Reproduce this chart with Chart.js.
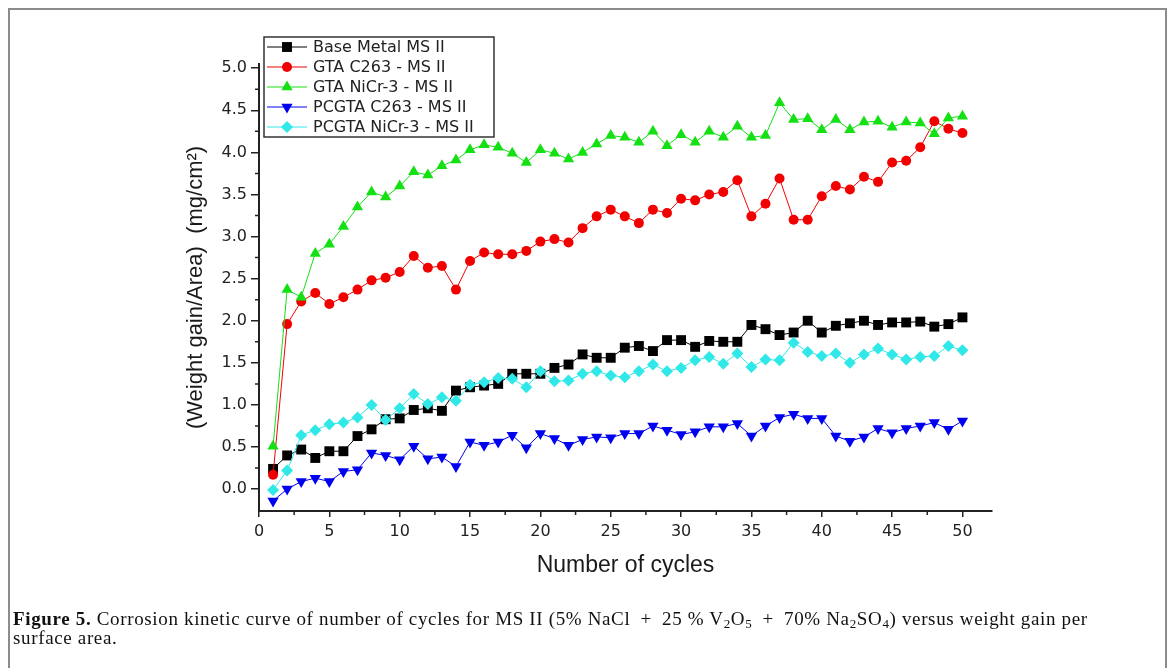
<!DOCTYPE html>
<html>
<head>
<meta charset="utf-8">
<title>Corrosion kinetic curve MS II</title>
<script src="https://cdn.jsdelivr.net/npm/chart.js"></script>
<style>
html,body{margin:0;padding:0;background:#fff;}
body{width:1171px;height:668px;position:relative;overflow:hidden;}
#frame{position:absolute;left:8px;top:8px;width:1155px;height:720px;border:2px solid #8c8c8c;border-bottom:none;}
#myChart{position:absolute;left:0;top:0;}
#caption{position:absolute;left:13px;top:609px;font-family:"Liberation Serif","Times New Roman",serif;font-size:19px;line-height:19px;letter-spacing:0.65px;color:#111;white-space:nowrap;}
#caption sub{font-size:13px;line-height:0;vertical-align:-3px;}
</style>
</head>
<body>
<div id="frame"></div>
<canvas id="myChart" width="1171" height="668"></canvas>
<div id="caption"><b>Figure 5.</b> Corrosion kinetic curve of number of cycles for MS II (5% NaCl&ensp;+&ensp;25&nbsp;% V<sub>2</sub>O<sub>5</sub>&ensp;+&ensp;70% Na<sub>2</sub>SO<sub>4</sub>) versus weight gain per<br>surface area.</div>
<script>
// values
const cycles = [1,2,3,4,5,6,7,8,9,10,11,12,13,14,15,16,17,18,19,20,21,22,23,24,25,
    26,27,28,29,30,31,32,33,34,35,36,37,38,39,40,41,42,43,44,45,46,47,48,49,50];

const baseMetal = [0.24,0.40,0.47,0.37,0.45,0.45,0.63,0.71,0.83,0.84,0.94,0.96,0.93,1.17,1.21,1.23,1.25,1.37,1.37,1.37,
    1.44,1.48,1.60,1.56,1.56,1.68,1.70,1.64,1.77,1.77,1.69,1.76,1.75,1.75,1.95,1.90,1.83,1.86,2.00,1.86,
    1.94,1.97,2.00,1.95,1.98,1.98,1.99,1.93,1.96,2.04];

const gtaC263 = [0.17,1.96,2.23,2.33,2.20,2.28,2.37,2.48,2.51,2.58,2.77,2.63,2.65,2.37,2.71,2.81,2.79,2.79,2.83,2.94,
    2.97,2.93,3.10,3.24,3.32,3.24,3.16,3.32,3.28,3.45,3.43,3.50,3.53,3.67,3.24,3.39,3.69,3.20,3.20,3.48,
    3.60,3.56,3.71,3.65,3.88,3.90,4.06,4.37,4.28,4.23];

const gtaNiCr = [0.51,2.37,2.28,2.80,2.91,3.12,3.35,3.53,3.47,3.60,3.77,3.73,3.84,3.91,4.03,4.09,4.06,3.99,3.88,4.03,
    3.99,3.92,4.00,4.10,4.20,4.18,4.12,4.25,4.08,4.21,4.12,4.25,4.18,4.31,4.18,4.20,4.59,4.39,4.40,4.27,
    4.39,4.27,4.36,4.37,4.30,4.36,4.35,4.22,4.41,4.43];

const pcgtaC263 = [-0.14,0.00,0.09,0.13,0.09,0.21,0.23,0.43,0.40,0.35,0.51,0.36,0.38,0.27,0.56,0.52,0.56,0.64,0.49,0.66,
    0.60,0.52,0.59,0.62,0.61,0.66,0.66,0.75,0.70,0.65,0.68,0.74,0.74,0.78,0.63,0.75,0.85,0.89,0.84,0.84,
    0.63,0.57,0.62,0.72,0.67,0.72,0.75,0.79,0.71,0.81];

const pcgtaNiCr = [-0.01,0.22,0.64,0.70,0.77,0.79,0.85,1.00,0.82,0.96,1.13,1.01,1.09,1.05,1.24,1.27,1.32,1.31,1.21,1.40,
    1.28,1.29,1.37,1.40,1.35,1.33,1.40,1.48,1.40,1.44,1.53,1.57,1.49,1.61,1.45,1.54,1.53,1.74,1.63,1.58,
    1.61,1.50,1.60,1.67,1.60,1.54,1.57,1.58,1.70,1.65];

const seriesNames = ['Base Metal MS II','GTA C263 - MS II','GTA NiCr-3 - MS II','PCGTA C263 - MS II','PCGTA NiCr-3 - MS II'];
const xTitle = 'Number of cycles';
const yTitle = '(Weight gain/Area)  (mg/cm\u00B2)';

function pts(vals){
    return vals.map((v,i)=>({x:cycles[i],y:v}))
}

function ds(label,vals,color,style,radius,rotation,order){
    return {
        label:label,
        data:pts(vals),
        borderColor:color,
        backgroundColor:color,
        pointBackgroundColor:color,
        borderWidth:1,
        pointStyle:style,
        pointRadius:radius,
        pointHoverRadius:radius,
        pointRotation:rotation,
        pointBorderWidth:0,
        tension:0,
        fill:false,
        order:order
    }
}

// short ticks between the labelled ones
const minorTicks = {
    id:'minorTicks',
    afterDraw(chart){
        const ctx = chart.ctx, ca = chart.chartArea;
        const x = chart.scales.x, y = chart.scales.y;
        ctx.save();
        ctx.strokeStyle = '#222';
        ctx.lineWidth = 1.5;
        ctx.beginPath();
        for(let v=2.5; v<x.max; v+=5){
            let px = x.getPixelForValue(v);
            ctx.moveTo(px,ca.bottom);
            ctx.lineTo(px,ca.bottom+4);
        }
        for(let v=0.25; v<y.max; v+=0.5){
            let py = y.getPixelForValue(v);
            ctx.moveTo(ca.left-4,py);
            ctx.lineTo(ca.left,py);
        }
        ctx.stroke();
        ctx.restore();
    }
}

// boxed legend with line + marker, like the Origin one
const boxLegend = {
    id:'boxLegend',
    afterDraw(chart){
        const ctx = chart.ctx, ca = chart.chartArea;
        const left = ca.left+5, top = ca.top-27, w = 230, h = 100;
        ctx.save();
        ctx.fillStyle = '#fff';
        ctx.fillRect(left,top,w,h);
        ctx.strokeStyle = '#333';
        ctx.lineWidth = 1.5;
        ctx.strokeRect(left,top,w,h);
        ctx.font = '16px "DejaVu Sans"';
        ctx.textBaseline = 'middle';
        chart.data.datasets.forEach((d,i)=>{
            let cy = top+10+i*20;
            ctx.strokeStyle = d.borderColor;
            ctx.lineWidth = 1;
            ctx.beginPath();
            ctx.moveTo(left+3,cy);
            ctx.lineTo(left+43,cy);
            ctx.stroke();
            ctx.fillStyle = d.borderColor;
            Chart.helpers.drawPoint(ctx,{pointStyle:d.pointStyle,radius:d.pointRadius,rotation:d.pointRotation,borderWidth:0},left+23,cy);
            ctx.fillStyle = '#222';
            ctx.fillText(d.label,left+49,cy+1);
        })
        ctx.restore();
    }
}

var ctx = document.getElementById('myChart').getContext('2d');
var myChart = new Chart(ctx,{
    type:'line',
    data:{
        datasets:[
            ds(seriesNames[0],baseMetal,'#000000','rect',7,0,5),
            ds(seriesNames[1],gtaC263,'#f20000','circle',5,0,4),
            ds(seriesNames[2],gtaNiCr,'#14e014','triangle',6.5,0,3),
            ds(seriesNames[3],pcgtaC263,'#0000f0','triangle',6.5,180,2),
            ds(seriesNames[4],pcgtaNiCr,'#30e8e8','rectRot',6,0,1)
        ]
    },
    options:{
        responsive:false,
        devicePixelRatio:1,
        animation:false,
        layout:{padding:{left:183,top:64,right:179,bottom:89}},
        plugins:{legend:{display:false},tooltip:{enabled:false}},
        scales:{
            x:{
                type:'linear',
                min:0,
                max:52.1,
                afterFit(s){s.height=68},
                border:{display:true,color:'#222',width:2},
                grid:{drawOnChartArea:false,drawTicks:true,tickLength:6,color:'#222',lineWidth:1.5},
                ticks:{stepSize:5,includeBounds:false,padding:5,color:'#222',font:{family:'DejaVu Sans',size:16},
                    callback:v=>String(v)},
                title:{display:true,text:xTitle,color:'#1a1a1a',padding:0,font:{family:'Liberation Sans',size:23}}
            },
            y:{
                min:-0.26,
                max:5.05,
                afterFit(s){s.width=76},
                border:{display:true,color:'#222',width:2},
                grid:{drawOnChartArea:false,drawTicks:true,tickLength:8,color:'#222',lineWidth:1.5},
                ticks:{stepSize:0.5,includeBounds:false,padding:4,color:'#222',font:{family:'DejaVu Sans',size:16},
                    callback:v=>v.toFixed(1)},
                title:{display:true,text:yTitle,color:'#1a1a1a',padding:0,font:{family:'Liberation Sans',size:22}}
            }
        }
    },
    plugins:[minorTicks,boxLegend]
});
</script>
</body>
</html>
